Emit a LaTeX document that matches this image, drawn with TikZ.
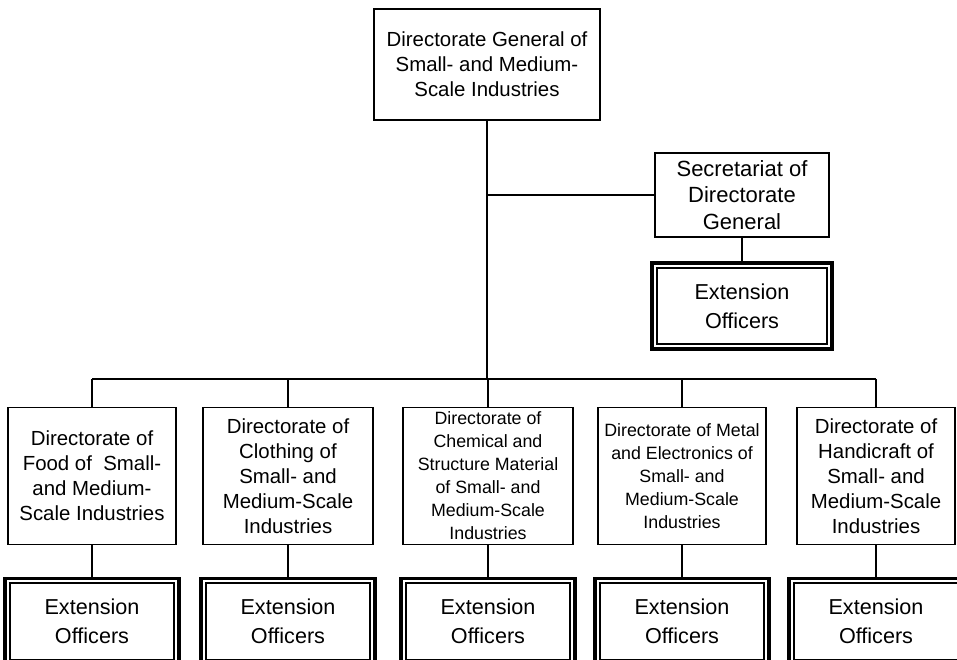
\documentclass[tikz,border=0pt]{standalone}
\usepackage{fontspec}
\setmainfont{Liberation Sans}
\begin{document}
\begin{tikzpicture}[x=1pt,y=-1pt,
  unit/.style={draw, line width=1.3pt, fill=white, align=center, inner sep=0pt},
  bigtext/.style={font=\fontsize{20.4}{25}\selectfont},
  smalltext/.style={font=\fontsize{17.8}{23}\selectfont},
  lowbox/.style={unit, minimum height=137pt},
  extbox/.style={draw, line width=1.7pt, fill=white, align=center, inner sep=0pt,
    minimum height=76.4pt, font=\fontsize{21.6}{29}\selectfont},
  frame/.style={draw, line width=3.4pt},
  link/.style={draw, line width=1.3pt}]
\useasboundingbox (0,0) rectangle (957,660);
\clip (0,0) rectangle (957,660);
\fill[white] (0,0) rectangle (957,660);

% head office and its secretariat
\node[unit, bigtext, minimum width=226pt, minimum height=111pt] (dg) at (487,64.5)
  {Directorate General of\\Small- and Medium-\\Scale Industries};
\node[unit, font=\fontsize{22}{26.5}\selectfont, minimum width=174pt, minimum height=84pt] (sec) at (742,195)
  {Secretariat of\\Directorate\\General};
\node[extbox, minimum width=170.4pt] (ext0) at (742,306) {Extension\\Officers};

% the five directorates
\node[lowbox, bigtext, minimum width=168pt] (food) at (92,476)
  {Directorate of\\Food of\ \ Small-\\and Medium-\\Scale Industries};
\node[lowbox, bigtext, minimum width=170pt] (cloth) at (288,476)
  {Directorate of\\Clothing of\\Small- and\\Medium-Scale\\Industries};
\node[lowbox, smalltext, minimum width=170pt] (chem) at (488,476)
  {Directorate of\\Chemical and\\Structure Material\\of Small- and\\Medium-Scale\\Industries};
\node[lowbox, smalltext, minimum width=168pt] (metal) at (682,476)
  {Directorate of Metal\\and Electronics of\\Small- and\\Medium-Scale\\Industries};
\node[lowbox, bigtext, minimum width=158pt] (hand) at (876,476)
  {Directorate of\\Handicraft of\\Small- and\\Medium-Scale\\Industries};

% extension officers under each directorate
\foreach \d/\e in {food/ext1, cloth/ext2, chem/ext3, metal/ext4, hand/ext5}{
  \node[extbox, minimum width=164.4pt, anchor=north] (\e) at ([yshift=-37.3pt]\d.south) {Extension\\Officers};
}
% thick outer line of each extension frame
\foreach \e in {ext0, ext1, ext2, ext3, ext4, ext5}{
  \draw[frame] ([shift={(-4.05pt,-4.05pt)}]\e.south west) rectangle ([shift={(4.05pt,4.05pt)}]\e.north east);
}

% connectors
\coordinate (bus) at (487,379);
\draw[link] (dg.south) -- (dg.south |- bus);
\draw[link] (dg.south |- sec.west) -- (sec.west);
\draw[link] (sec.south) -- ([yshift=5.8pt]ext0.north);
\draw[link] (food.north |- bus) -- (hand.north |- bus);
\foreach \d/\e in {food/ext1, cloth/ext2, chem/ext3, metal/ext4, hand/ext5}{
  \draw[link] (\d.north |- bus) -- (\d.north);
  \draw[link] (\d.south) -- ([yshift=5.8pt]\e.north);
}
\end{tikzpicture}
\end{document}
